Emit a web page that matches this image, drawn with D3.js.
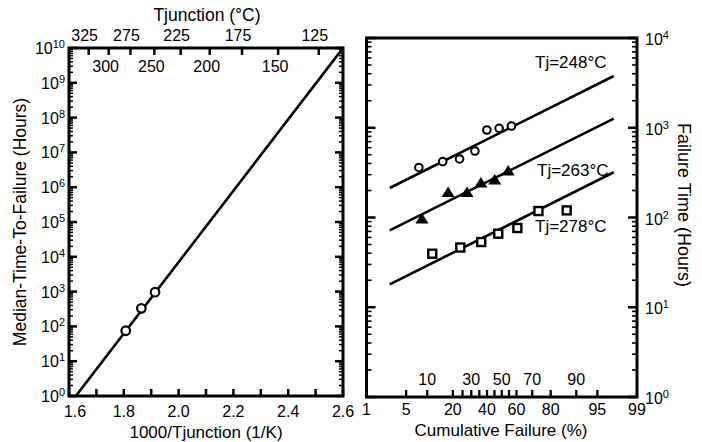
<!DOCTYPE html>
<html><head><meta charset="utf-8">
<script src="https://cdn.jsdelivr.net/npm/d3@7"></script>
<style>
body{margin:0;background:#fff}
svg{display:block}
text{font-family:"Liberation Sans",Arial,Helvetica,sans-serif;fill:#000}
</style>
</head><body>
<svg id="c" width="702" height="442"></svg>
<script>
// ---------- Left panel data (Arrhenius plot) ----------
const invTempPoints = [1.807, 1.864, 1.914];      // 1000/T (1/K)
const mttfPoints    = [75, 330, 960];              // hours
const arrFitX = [1.625, 2.6];
const arrFitY = [1, 1e10];
const invTempTicks  = [1.6,1.7,1.8,1.9,2.0,2.1,2.2,2.3,2.4,2.5,2.6];
const invTempLabels = [1.6,1.8,2.0,2.2,2.4,2.6];
const tempTicks       = [325,300,275,250,225,200,175,150,125];
const tempLabelsOuter = [325,275,225,175,125];
const tempLabelsInner = [300,250,200,150];
const mttfDecades = [0,1,2,3,4,5,6,7,8,9,10];

// ---------- Right panel data (lognormal probability plot) ----------
const pct248 = [7.7, 15.5, 23.4, 32.2, 39.9, 48.2, 56.6];
const hrs248 = [361, 419, 449, 551, 944, 986, 1046];
const pct263 = [8.5, 17.8, 27.5, 36.0, 45.2, 54.4];
const hrs263 = [96, 190, 190, 242, 262, 330];
const pct278 = [11.6, 23.8, 36.2, 47.6, 60.6, 73.6, 86.8];
const hrs278 = [39.5, 46.3, 53.3, 66, 76.4, 118, 120];
const fitPct = [2.7, 97.3];
const fit248 = [213, 3774];
const fit263 = [72, 1265];
const fit278 = [18, 319];
const seriesLabels = ["Tj=248°C", "Tj=263°C", "Tj=278°C"];
const pctTicks = [5,10,20,25,30,35,40,45,50,55,60,70,80,90,95];
const pctLabelsOuter = [1,5,20,40,60,80,95,99];
const pctLabelsInner = [10,30,50,70,90];
const timeDecades = [0,1,2,3,4];

// ---------- helpers ----------
function normInv(p){
  const a=[-3.969683028665376e+01,2.209460984245205e+02,-2.759285104469687e+02,1.383577518672690e+02,-3.066479806614716e+01,2.506628277459239e+00];
  const b=[-5.447609879822406e+01,1.615858368580409e+02,-1.556989798598866e+02,6.680131188771972e+01,-1.328068155288572e+01];
  const c=[-7.784894002430293e-03,-3.223964580411365e-01,-2.400758277161838e+00,-2.549732539343734e+00,4.374664141464968e+00,2.938163982698783e+00];
  const d=[7.784695709041462e-03,3.224671290700398e-01,2.445134137142996e+00,3.754408661907416e+00];
  const pl=0.02425, ph=1-pl; let q,r;
  if(p<pl){q=Math.sqrt(-2*Math.log(p));return (((((c[0]*q+c[1])*q+c[2])*q+c[3])*q+c[4])*q+c[5])/((((d[0]*q+d[1])*q+d[2])*q+d[3])*q+1);}
  if(p<=ph){q=p-0.5;r=q*q;return (((((a[0]*r+a[1])*r+a[2])*r+a[3])*r+a[4])*r+a[5])*q/(((((b[0]*r+b[1])*r+b[2])*r+b[3])*r+b[4])*r+1);}
  q=Math.sqrt(-2*Math.log(1-p));return -(((((c[0]*q+c[1])*q+c[2])*q+c[3])*q+c[4])*q+c[5])/((((d[0]*q+d[1])*q+d[2])*q+d[3])*q+1);
}
function pow10Label(g, x, y, exp, anchor){
  const t = g.append("text").attr("x",x).attr("y",y).attr("text-anchor",anchor).style("font-size","16px");
  t.append("tspan").text("10");
  t.append("tspan").attr("dy",-6).style("font-size","11px").text(exp);
}

const svg = d3.select("#c");
const SW = 3;

// ================= LEFT PANEL =================
const L = {x0:69, x1:343, y0:48, y1:396};
const xL = d3.scaleLinear().domain([1.6,2.6]).range([L.x0,L.x1]);
const yL = d3.scaleLog().domain([1,1e10]).range([L.y1,L.y0]);
const gL = svg.append("g");

svg.append("clipPath").attr("id","clipL").append("rect")
  .attr("x",L.x0).attr("y",L.y0).attr("width",L.x1-L.x0).attr("height",L.y1-L.y0);

// fit line
gL.append("path").attr("clip-path","url(#clipL)")
  .attr("d", d3.line().x(d=>xL(d[0])).y(d=>yL(d[1]))(d3.zip(arrFitX,arrFitY)))
  .attr("stroke","#000").attr("stroke-width",2.6).attr("fill","none");

// y ticks (both sides)
const yMinorL = [];
mttfDecades.forEach(e=>{ if(e<10) for(let m=2;m<=9;m++) yMinorL.push(m*Math.pow(10,e)); });
[[L.x0,1],[L.x1,-1]].forEach(([x,s])=>{
  gL.selectAll(null).data(mttfDecades.map(e=>Math.pow(10,e))).enter().append("line")
    .attr("x1",x).attr("x2",x+s*8).attr("y1",d=>yL(d)).attr("y2",d=>yL(d))
    .attr("stroke","#000").attr("stroke-width",2.5);
  gL.selectAll(null).data(yMinorL).enter().append("line")
    .attr("x1",x).attr("x2",x+s*4).attr("y1",d=>yL(d)).attr("y2",d=>yL(d))
    .attr("stroke","#000").attr("stroke-width",1.5);
});
mttfDecades.forEach(e=>pow10Label(gL, 65, yL(Math.pow(10,e))+6, e, "end"));

// bottom ticks
gL.selectAll(null).data(invTempTicks).enter().append("line")
  .attr("x1",d=>xL(d)).attr("x2",d=>xL(d)).attr("y1",L.y1).attr("y2",L.y1-7)
  .attr("stroke","#000").attr("stroke-width",2.5);
gL.selectAll(null).data(invTempLabels).enter().append("text")
  .attr("x",d=>xL(d)+(d===1.6?6:0)).attr("y",417).attr("text-anchor","middle")
  .style("font-size","16px").text(d3.format(".1f"));

// top temperature ticks
const tx = T => xL(1000/(T+273.15));
gL.selectAll(null).data(tempTicks).enter().append("line")
  .attr("x1",tx).attr("x2",tx).attr("y1",L.y0).attr("y2",L.y0+7)
  .attr("stroke","#000").attr("stroke-width",2.5);
gL.selectAll(null).data(tempLabelsOuter).enter().append("text")
  .attr("x",d=>tx(d)-4).attr("y",41).attr("text-anchor","middle")
  .style("font-size","16px").text(d=>d);
gL.selectAll(null).data(tempLabelsInner).enter().append("text")
  .attr("x",d=>tx(d)-3).attr("y",72).attr("text-anchor","middle")
  .style("font-size","16px").text(d=>d);

// frame
gL.append("rect").attr("x",L.x0).attr("y",L.y0).attr("width",L.x1-L.x0).attr("height",L.y1-L.y0)
  .attr("fill","none").attr("stroke","#000").attr("stroke-width",SW);

// points
gL.selectAll(null).data(d3.zip(invTempPoints,mttfPoints)).enter().append("circle")
  .attr("cx",d=>xL(d[0])).attr("cy",d=>yL(d[1])).attr("r",4.3)
  .attr("fill","#fff").attr("stroke","#000").attr("stroke-width",2.2);

// titles
gL.append("text").attr("x",207).attr("y",21).attr("text-anchor","middle").style("font-size","17.5px").text("Tjunction (°C)");
gL.append("text").attr("x",206).attr("y",437.5).attr("text-anchor","middle").style("font-size","17px").text("1000/Tjunction (1/K)");
gL.append("text").attr("transform","translate(26,222) rotate(-90)").attr("text-anchor","middle")
  .style("font-size","17.5px").text("Median-Time-To-Failure (Hours)");

// ================= RIGHT PANEL =================
const R = {x0:366.5, x1:637, y0:38, y1:397};
const zScale = d3.scaleLinear().domain([normInv(0.01), normInv(0.99)]).range([R.x0,R.x1]);
const xR = p => zScale(normInv(p/100));
const yR = d3.scaleLog().domain([1,1e4]).range([R.y1,R.y0]);
const gR = svg.append("g");
svg.append("clipPath").attr("id","clipR").append("rect")
  .attr("x",R.x0).attr("y",R.y0).attr("width",R.x1-R.x0).attr("height",R.y1-R.y0);

const yMinorR = [];
timeDecades.forEach(e=>{ if(e<4) for(let m=2;m<=9;m++) yMinorR.push(m*Math.pow(10,e)); });
[[R.x0,1],[R.x1,-1]].forEach(([x,s])=>{
  gR.selectAll(null).data(timeDecades.map(e=>Math.pow(10,e))).enter().append("line")
    .attr("x1",x).attr("x2",x+s*9).attr("y1",d=>yR(d)).attr("y2",d=>yR(d))
    .attr("stroke","#000").attr("stroke-width",2.5);
  gR.selectAll(null).data(yMinorR).enter().append("line")
    .attr("x1",x).attr("x2",x+s*(5)).attr("y1",d=>yR(d)).attr("y2",d=>yR(d))
    .attr("stroke","#000").attr("stroke-width",1.6);
});
timeDecades.forEach(e=>pow10Label(gR, 645, yR(Math.pow(10,e))+7, e, "start"));

// x ticks
gR.selectAll(null).data(pctTicks).enter().append("line")
  .attr("x1",xR).attr("x2",xR).attr("y1",R.y1).attr("y2",R.y1-7)
  .attr("stroke","#000").attr("stroke-width",2.3);
gR.selectAll(null).data(pctLabelsOuter).enter().append("text")
  .attr("x",xR).attr("y",415).attr("text-anchor","middle").style("font-size","16px").text(d=>d);
gR.selectAll(null).data(pctLabelsInner).enter().append("text")
  .attr("x",xR).attr("y",385).attr("text-anchor","middle").style("font-size","16px").text(d=>d);

// frame
gR.append("rect").attr("x",R.x0).attr("y",R.y0).attr("width",R.x1-R.x0).attr("height",R.y1-R.y0)
  .attr("fill","none").attr("stroke","#000").attr("stroke-width",SW);

// fit lines
const lineR = d3.line().x(d=>xR(d[0])).y(d=>yR(d[1]));
[fit248,fit263,fit278].forEach(f=>{
  gR.append("path").attr("clip-path","url(#clipR)").attr("d",lineR(d3.zip(fitPct,f)))
    .attr("stroke","#000").attr("stroke-width",2.6).attr("fill","none");
});

// markers
gR.selectAll(null).data(d3.zip(pct248,hrs248)).enter().append("circle")
  .attr("cx",d=>xR(d[0])).attr("cy",d=>yR(d[1])).attr("r",3.8)
  .attr("fill","#fff").attr("stroke","#000").attr("stroke-width",2);
gR.selectAll(null).data(d3.zip(pct263,hrs263)).enter().append("path")
  .attr("transform",d=>`translate(${xR(d[0])},${yR(d[1])})`)
  .attr("d","M0,-6L6.5,4.5L-6.5,4.5Z").attr("fill","#000");
gR.selectAll(null).data(d3.zip(pct278,hrs278)).enter().append("rect")
  .attr("x",d=>xR(d[0])-4).attr("y",d=>yR(d[1])-4).attr("width",8).attr("height",8)
  .attr("fill","#fff").attr("stroke","#000").attr("stroke-width",2.4);

// series labels
const labelPos = [[535,68],[537,176],[535,232]];
seriesLabels.forEach((s,i)=>{
  gR.append("text").attr("x",labelPos[i][0]).attr("y",labelPos[i][1]).style("font-size","17px").text(s);
});

// titles
gR.append("text").attr("x",501).attr("y",435.5).attr("text-anchor","middle").style("font-size","17px").text("Cumulative Failure (%)");
gR.append("text").attr("transform","translate(678,205) rotate(90)").attr("text-anchor","middle")
  .style("font-size","18px").text("Failure Time (Hours)");
</script>
</body></html>
